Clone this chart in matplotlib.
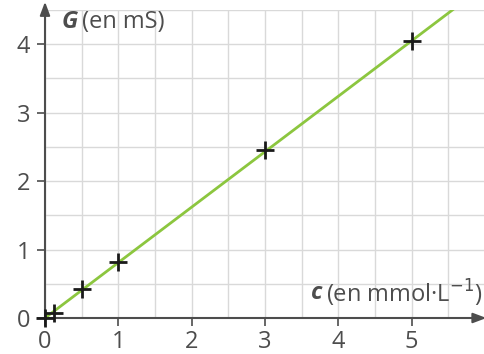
import matplotlib.pyplot as plt
import numpy as np
from matplotlib.ticker import MultipleLocator

# measured points
c_vals = [0, 0.12, 0.5, 1, 3, 5]
g_vals = [0, 0.08, 0.42, 0.82, 2.45, 4.05]

# fitted line
slope = 0.81
line_c = [0, 5.56]

x_ticks = [0, 1, 2, 3, 4, 5]
y_ticks = [0, 1, 2, 3, 4]

axis_col = "#4d4d4d"
plt.rcParams["font.family"] = ["Open Sans", "DejaVu Sans"]
fs = 17

fig = plt.figure(figsize=(4.85, 3.54), dpi=100)
ax = fig.add_axes([45 / 485, 36 / 354, 440 / 485, 308 / 354])
ax.set_xlim(0, 6)
ax.set_ylim(0, 4.5)

ax.xaxis.set_minor_locator(MultipleLocator(0.5))
ax.yaxis.set_minor_locator(MultipleLocator(0.5))
ax.set_xticks(x_ticks)
ax.set_yticks(y_ticks)
ax.grid(which="both", color="#d9d9d9", linewidth=1)
ax.set_axisbelow(True)
ax.tick_params(which="minor", length=0)
ax.tick_params(which="major", length=5.5, width=1.2, color=axis_col,
               labelcolor=axis_col, labelsize=fs, pad=3)
ax.tick_params(axis="y", pad=5)

for s in ax.spines.values():
    s.set_visible(False)

# axes with arrows
arrow = dict(arrowstyle="-|>,head_length=0.8,head_width=0.3",
             color=axis_col, lw=1.5, shrinkA=0, shrinkB=0)
ax.annotate("", xy=(6.02, 0), xytext=(0, 0), annotation_clip=False,
            arrowprops=arrow)
ax.annotate("", xy=(0, 4.62), xytext=(0, 0), annotation_clip=False,
            arrowprops=arrow)

lc = np.array(line_c)
ax.plot(lc, slope * lc, color="#8cc63f", lw=2, zorder=3)
ax.plot(c_vals, g_vals, ls="none", marker="+", ms=13, mew=2,
        color="#1a1a1a", zorder=4, clip_on=False)

# axis titles: bold italic symbol + plain unit
fig.canvas.draw()
r = fig.canvas.get_renderer()

g_sym = ax.text(0.23, 4.33, "G", fontsize=fs, color=axis_col,
                fontweight="bold", style="italic", ha="left", va="center")
bb = g_sym.get_window_extent(r)
ax.annotate("(en mS)", xy=(bb.x1, bb.y0 + bb.height / 2), xycoords="figure pixels",
            xytext=(4, 0), textcoords="offset pixels", fontsize=fs,
            color=axis_col, ha="left", va="center")

unit = ax.text(5.97, 0.36, "(en mmol·L$^{-1}$)", fontsize=fs, color=axis_col,
               ha="right", va="center")
bb = unit.get_window_extent(r)
ax.annotate("c", xy=(bb.x0, 0.36), xycoords=("figure pixels", "data"),
            xytext=(-4, 0), textcoords="offset pixels", fontsize=fs,
            color=axis_col, fontweight="bold", style="italic",
            ha="right", va="center")

fig.savefig("out.png", dpi=100)
